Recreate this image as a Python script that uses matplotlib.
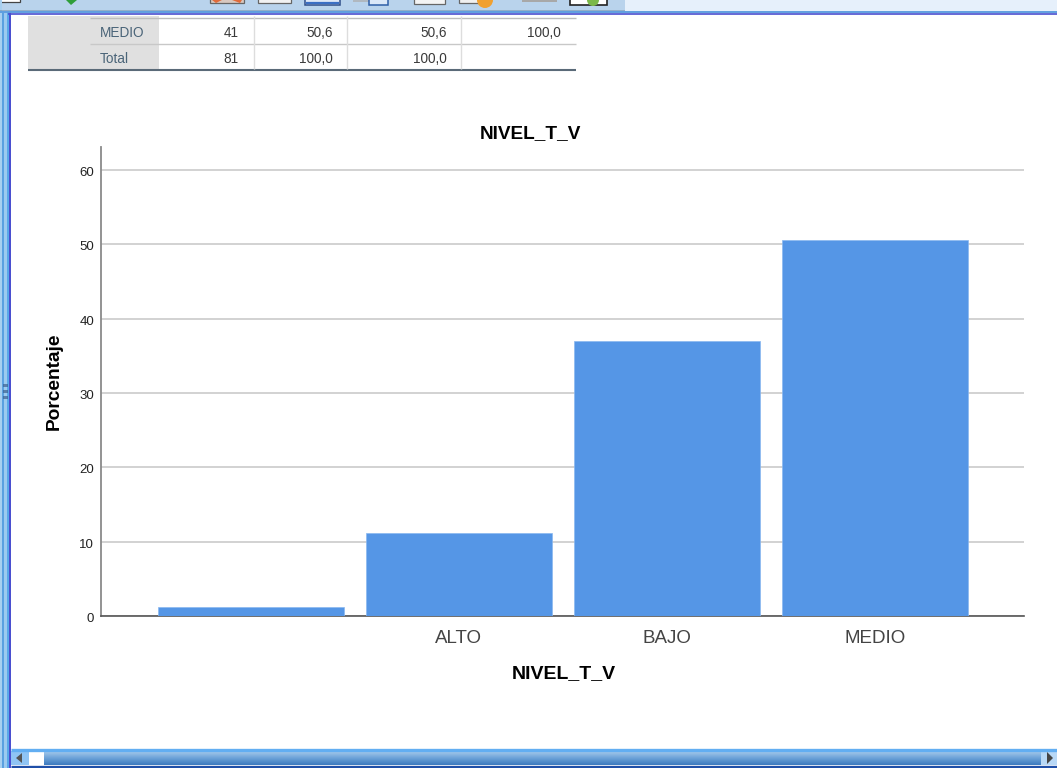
import numpy as np
import matplotlib
matplotlib.use('Agg')
import matplotlib.pyplot as plt
from matplotlib.patches import Rectangle, Polygon, Wedge
from matplotlib.transforms import ScaledTranslation

W, H = 1057, 768

categories = ['', 'ALTO', 'BAJO', 'MEDIO']
percents = [1.2, 11.1, 37.0, 50.6]
y_ticks = [0, 10, 20, 30, 40, 50, 60]

table_rows = ['MEDIO', 'Total']
table_freq = ['41', '81']
table_pct = ['50,6', '100,0']
table_valid = ['50,6', '100,0']
table_cum = ['100,0', '']

plt.rcParams['font.family'] = ['Liberation Sans', 'DejaVu Sans']
fig = plt.figure(figsize=(W / 100, H / 100), dpi=100)

# window chrome and the table live in an overlay using pixel coords
bg = fig.add_axes([0, 0, 1, 1], zorder=0)
bg.set_xlim(0, W)
bg.set_ylim(H, 0)
bg.axis('off')


def box(x0, y0, x1, y1, color, **kw):
    bg.add_patch(Rectangle((x0, y0), x1 - x0, y1 - y0, facecolor=color, edgecolor=kw.pop('ec', 'none'), **kw))


def hline(y, x0, x1, color, lw=1.0):
    bg.plot([x0, x1], [y, y], color=color, lw=lw, solid_capstyle='butt')


def vline(x, y0, y1, color, lw=1.0):
    bg.plot([x, x], [y0, y1], color=color, lw=lw, solid_capstyle='butt')


# toolbar strip
box(0, 0, 625, 10, '#b9d3ec')
box(625, 0, W, 11, '#e6f0fb')
hline(10.5, 0, 625, '#7f9fbe', 1.2)
hline(12, 0, W, '#5f9fe0', 1.4)
hline(14, 8, W, '#4a4fd0', 1.2)
# toolbar icon stubs
bg.add_patch(Polygon([[66, 0], [77, 0], [71, 5]], facecolor='#2f9e3a'))
box(-2, -2, 20, 2, 'white', ec='#444444', lw=0.9)
box(210, -2, 244, 3, '#d8c8c0', ec='#666666', lw=0.9)
bg.add_patch(Polygon([[212, 0], [222, 0], [216, 3]], facecolor='#e06a3a'))
bg.add_patch(Polygon([[232, 0], [242, 0], [240, 3]], facecolor='#e06a3a'))
box(258, -2, 291, 3, '#f2f2f2', ec='#666666', lw=0.9)
box(305, -2, 340, 5, '#dfe8f6', ec='#2f4f8a', lw=1.1)
hline(2.5, 306, 339, '#3b6fc4', 1.6)
box(353, -2, 369, 2, '#b0b8c0')
box(369, -2, 388, 5, '#dbe8f8', ec='#2f5fa8', lw=1.1)
box(414, -2, 445, 4, '#f4f4f4', ec='#666666', lw=0.9)
box(459, -2, 483, 3, '#f0f0f0', ec='#666666', lw=0.9)
bg.add_patch(Wedge((485, 0), 8, 0, 180, facecolor='#f0a030'))
box(522, -2, 557, 2, '#a8a8a8')
box(570, -2, 607, 5, '#ffffff', ec='#222222', lw=1.2)
bg.add_patch(Wedge((593, 0), 6, 0, 180, facecolor='#7bb84a'))

# left frame
box(0, 0, 2, H, '#a8d0f0')
box(2, 12, 4, H, '#5aa0e0')
box(4, 12, 7, H, '#9ccaf0')
box(7, 12, 9, H, '#5aa8e8')
box(9, 12, 11, H, '#4a4fd0')
for dot_y in [385, 391, 397]:
    box(3, dot_y - 1.5, 8, dot_y + 1.5, '#3a5f90', alpha=0.7)

# horizontal scrollbar, lit from the top
bar_colors = np.linspace(0, 1, 14)[:, None]
cmap = matplotlib.colors.LinearSegmentedColormap.from_list('sb', ['#a4c8ea', '#6ca2d8', '#3f7cc0'])
bg.imshow(bar_colors, extent=(44, 1041, 765, 751), cmap=cmap, aspect='auto', zorder=1)
bg.set_xlim(0, W)
bg.set_ylim(H, 0)
hline(749.5, 11, W, '#62aef2', 2.4)
hline(766.5, 11, W, '#1f4fa8', 2.4)
box(11, 751, 29, 765, '#8fc4f4')
box(30, 751, 44, 765, 'white')
box(1041, 751, W, 765, '#b8d8f6')
bg.add_patch(Polygon([[16, 758], [22, 753], [22, 763]], facecolor='#555555', zorder=3))
bg.add_patch(Polygon([[1053, 758], [1047, 752], [1047, 764]], facecolor='#444444', zorder=3))

# frequency table
box(28, 16, 159, 70, '#e0e0e0')
row_y = [33, 59]
hline(17.5, 90, 576, '#bdbdbd', 1)
hline(43.5, 90, 576, '#c8c8c8', 1)
hline(70, 28, 576, '#5a6a78', 1.5)
for x in [254, 347, 461]:
    vline(x, 16, 69, '#dddddd', 1)
for i in range(len(table_rows)):
    y = row_y[i]
    bg.text(100, y, table_rows[i], fontsize=9.8, color='#4a6478', va='center', ha='left')
    bg.text(239, y, table_freq[i], fontsize=9.8, color='#3a3a3a', va='center', ha='right')
    bg.text(333, y, table_pct[i], fontsize=9.8, color='#3a3a3a', va='center', ha='right')
    bg.text(447, y, table_valid[i], fontsize=9.8, color='#3a3a3a', va='center', ha='right')
    bg.text(561, y, table_cum[i], fontsize=9.8, color='#3a3a3a', va='center', ha='right')

# bar chart
left, right, top, bottom = 101, 1024, 147, 616
ax = fig.add_axes([left / W, 1 - bottom / H, (right - left) / W, (bottom - top) / H], zorder=1)
ax.patch.set_alpha(0)
positions = list(range(len(categories)))
ax.bar(positions, percents, width=0.895, color='#5596e6', edgecolor='#8ab8f0', linewidth=0.5, zorder=3)
ax.set_xlim(-0.72, 3.717)
ax.set_ylim(0, 63.1)
ax.set_yticks(y_ticks)
ax.set_xticks(positions)
ax.set_xticklabels(categories, fontsize=13.5, color='#444444')
ax.tick_params(axis='x', length=0, pad=10)
ax.tick_params(axis='y', length=0, pad=5, labelsize=9.5, labelcolor='#222222')
# tick numbers sit a touch below their grid lines in the original
nudge = ScaledTranslation(0, -1.5 / 100, fig.dpi_scale_trans)
for lab in ax.get_yticklabels():
    lab.set_transform(lab.get_transform() + nudge)
ax.grid(axis='y', color='#cfcfcf', lw=1.3, zorder=1)
ax.set_axisbelow(True)
for s in ['top', 'right']:
    ax.spines[s].set_visible(False)
ax.spines['left'].set_color('#8a8a8a')
ax.spines['left'].set_linewidth(1.3)
ax.spines['bottom'].set_color('#555555')
ax.spines['bottom'].set_linewidth(1.2)

bg.text(530, 134, 'NIVEL_T_V', fontsize=13.7, fontweight='bold', color='black', ha='center', va='center')
bg.text(563.5, 674, 'NIVEL_T_V', fontsize=14, fontweight='bold', color='black', ha='center', va='center')
bg.text(54, 381, 'Porcentaje', fontsize=13.8, fontweight='bold', color='black', ha='center', va='center', rotation=90)

fig.savefig('out.png', dpi=100)
